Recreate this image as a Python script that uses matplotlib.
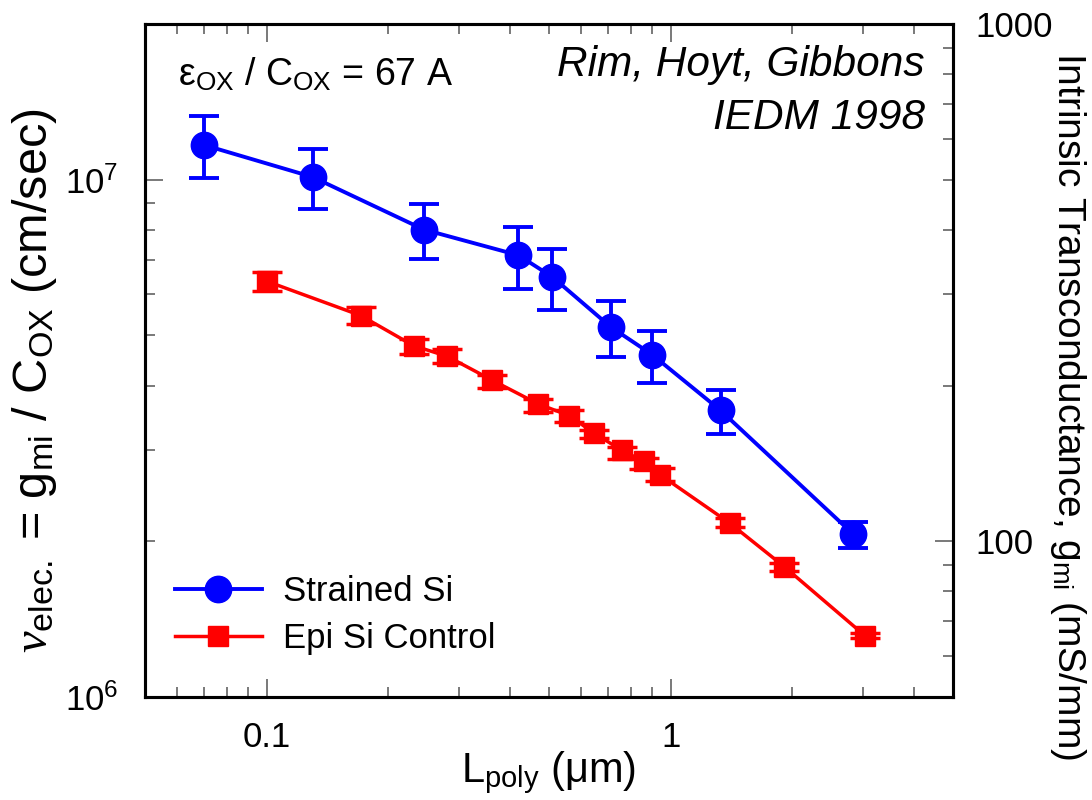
import matplotlib
matplotlib.use('Agg')
import numpy as np
import matplotlib.pyplot as plt
from matplotlib.ticker import LogLocator, NullFormatter, FixedLocator, FixedFormatter

# Strained Si (blue circles) - L_poly in um, velocity in cm/sec
strained_l = [0.07, 0.13, 0.245, 0.42, 0.51, 0.71, 0.90, 1.33, 2.83]
strained_v = [1.167e7, 1.012e7, 8.01e6, 7.145e6, 6.485e6, 5.195e6, 4.59e6, 3.58e6, 2.065e6]
strained_lo = [1.006e7, 8.79e6, 7.04e6, 6.16e6, 5.59e6, 4.54e6, 4.05e6, 3.225e6, 1.945e6]
strained_hi = [1.328e7, 1.144e7, 8.96e6, 8.12e6, 7.36e6, 5.82e6, 5.11e6, 3.92e6, 2.184e6]

# Epi Si control (red squares)
control_l = [0.10, 0.171, 0.231, 0.280, 0.362, 0.47, 0.561, 0.646, 0.757, 0.859, 0.942, 1.40, 1.91, 3.03]
control_v = [6.365e6, 5.463e6, 4.777e6, 4.556e6, 4.095e6, 3.686e6, 3.499e6, 3.238e6, 2.998e6,
             2.854e6, 2.689e6, 2.169e6, 1.787e6, 1.313e6]
control_lo = [6.107e6, 5.27e6, 4.604e6, 4.423e6, 3.96e6, 3.55e6, 3.396e6, 3.161e6, 2.889e6,
              2.763e6, 2.61e6, 2.13e6, 1.755e6, 1.299e6]
control_hi = [6.64e6, 5.678e6, 4.923e6, 4.709e6, 4.2e6, 3.77e6, 3.583e6, 3.286e6, 3.044e6,
              2.897e6, 2.77e6, 2.218e6, 1.815e6, 1.328e6]

x_ticks = [0.1, 1]
x_tick_labels = ['0.1', '1']
gm_ticks = [100, 1000]
gm_tick_labels = ['100', '1000']

plt.rcParams['font.family'] = ['Liberation Sans', 'DejaVu Sans']
plt.rcParams['mathtext.fontset'] = 'custom'
plt.rcParams['mathtext.rm'] = 'Liberation Sans'
plt.rcParams['mathtext.it'] = 'Liberation Serif:italic'
plt.rcParams['mathtext.bf'] = 'Liberation Sans:bold'

fig = plt.figure(figsize=(10.92, 8), dpi=100)
ax = fig.add_axes([0.1328, 0.12875, 0.7399, 0.84125])
ax2 = ax.twinx()

tick_color = '#555555'


def errors(v, lo, hi):
    v = np.asarray(v)
    return np.vstack([v - np.asarray(lo), np.asarray(hi) - v])


ax.errorbar(strained_l, strained_v, yerr=errors(strained_v, strained_lo, strained_hi),
            fmt='none', ecolor='#0000ff', elinewidth=2.8, capsize=10.8, capthick=2.8, zorder=3)
ax.errorbar(control_l, control_v, yerr=errors(control_v, control_lo, control_hi),
            fmt='none', ecolor='#ff0000', elinewidth=2.5, capsize=10.5, capthick=2.5, zorder=3)
blue, = ax.plot(strained_l, strained_v, '-o', color='#0000ff', lw=2.8, ms=19,
                label='Strained Si', zorder=4)
red, = ax.plot(control_l, control_v, '-s', color='#ff0000', lw=2.5, ms=14.5,
               label='Epi Si Control', zorder=4)

ax.set_xscale('log')
ax.set_yscale('log')
ax.set_xlim(0.05, 5)
ax.set_ylim(1e6, 2e7)
ax2.set_yscale('log')
ax2.set_ylim(50, 1000)

ax.xaxis.set_major_locator(FixedLocator(x_ticks))
ax.xaxis.set_major_formatter(FixedFormatter(x_tick_labels))
ax.xaxis.set_minor_locator(LogLocator(base=10, subs=np.arange(2, 10)))
ax.xaxis.set_minor_formatter(NullFormatter())
ax.yaxis.set_major_locator(LogLocator(base=10, numticks=10))
ax.yaxis.set_minor_locator(LogLocator(base=10, subs=np.arange(2, 10), numticks=10))
ax.yaxis.set_minor_formatter(NullFormatter())
ax2.yaxis.set_major_locator(FixedLocator(gm_ticks))
ax2.yaxis.set_major_formatter(FixedFormatter(gm_tick_labels))
ax2.yaxis.set_minor_locator(LogLocator(base=10, subs=np.arange(2, 10), numticks=10))
ax2.yaxis.set_minor_formatter(NullFormatter())

ax.tick_params(axis='both', which='both', direction='in', color=tick_color, width=1.1,
               labelsize=25, top=True, right=False)
ax.tick_params(axis='both', which='major', length=13)
ax.tick_params(axis='both', which='minor', length=7)
ax.tick_params(axis='x', which='major', pad=17)
ax.tick_params(axis='y', which='major', pad=19)
ax2.tick_params(axis='y', which='both', direction='in', color=tick_color, width=1.1,
                labelsize=25, pad=16)
ax2.tick_params(axis='y', which='major', length=13)
ax2.tick_params(axis='y', which='minor', length=7)

for a in (ax, ax2):
    for s in a.spines.values():
        s.set_linewidth(2.2)
        s.set_color('black')

ax.set_xlabel(r'L$_{\mathrm{poly}}$ (μm)', fontsize=30, va='top')
ax.xaxis.set_label_coords(0.5, -0.078)
ax.set_ylabel(r'$\nu_{\mathrm{elec.}}$ = g$_{\mathrm{mi}}$ / C$_{\mathrm{OX}}$ (cm/sec)',
              fontsize=35, va='center', ha='center')
ax.yaxis.set_label_coords(-0.137, 0.47)
ax2.set_ylabel(r'Intrinsic Transconductance, g$_{\mathrm{mi}}$ (mS/mm)', fontsize=28,
               rotation=270, va='center', ha='center')
ax2.yaxis.set_label_coords(1.142, 0.433)

ax.text(0.041, 0.924, r'ε$_{\mathrm{OX}}$ / C$_{\mathrm{OX}}$ = 67 A', transform=ax.transAxes,
        fontsize=27, ha='left', va='center')
ax.text(0.965, 0.939, 'Rim, Hoyt, Gibbons', transform=ax.transAxes, fontsize=30.5,
        style='italic', ha='right', va='center')
ax.text(0.965, 0.860, 'IEDM 1998', transform=ax.transAxes, fontsize=30.5,
        style='italic', ha='right', va='center')

ax.legend(handles=[blue, red], loc='lower left', bbox_to_anchor=(0.037, 0.062),
          frameon=False, fontsize=25, handlelength=2.5, handletextpad=0.6,
          labelspacing=0.4, borderpad=0, borderaxespad=0, numpoints=1)

fig.savefig('out.png', dpi=100)
